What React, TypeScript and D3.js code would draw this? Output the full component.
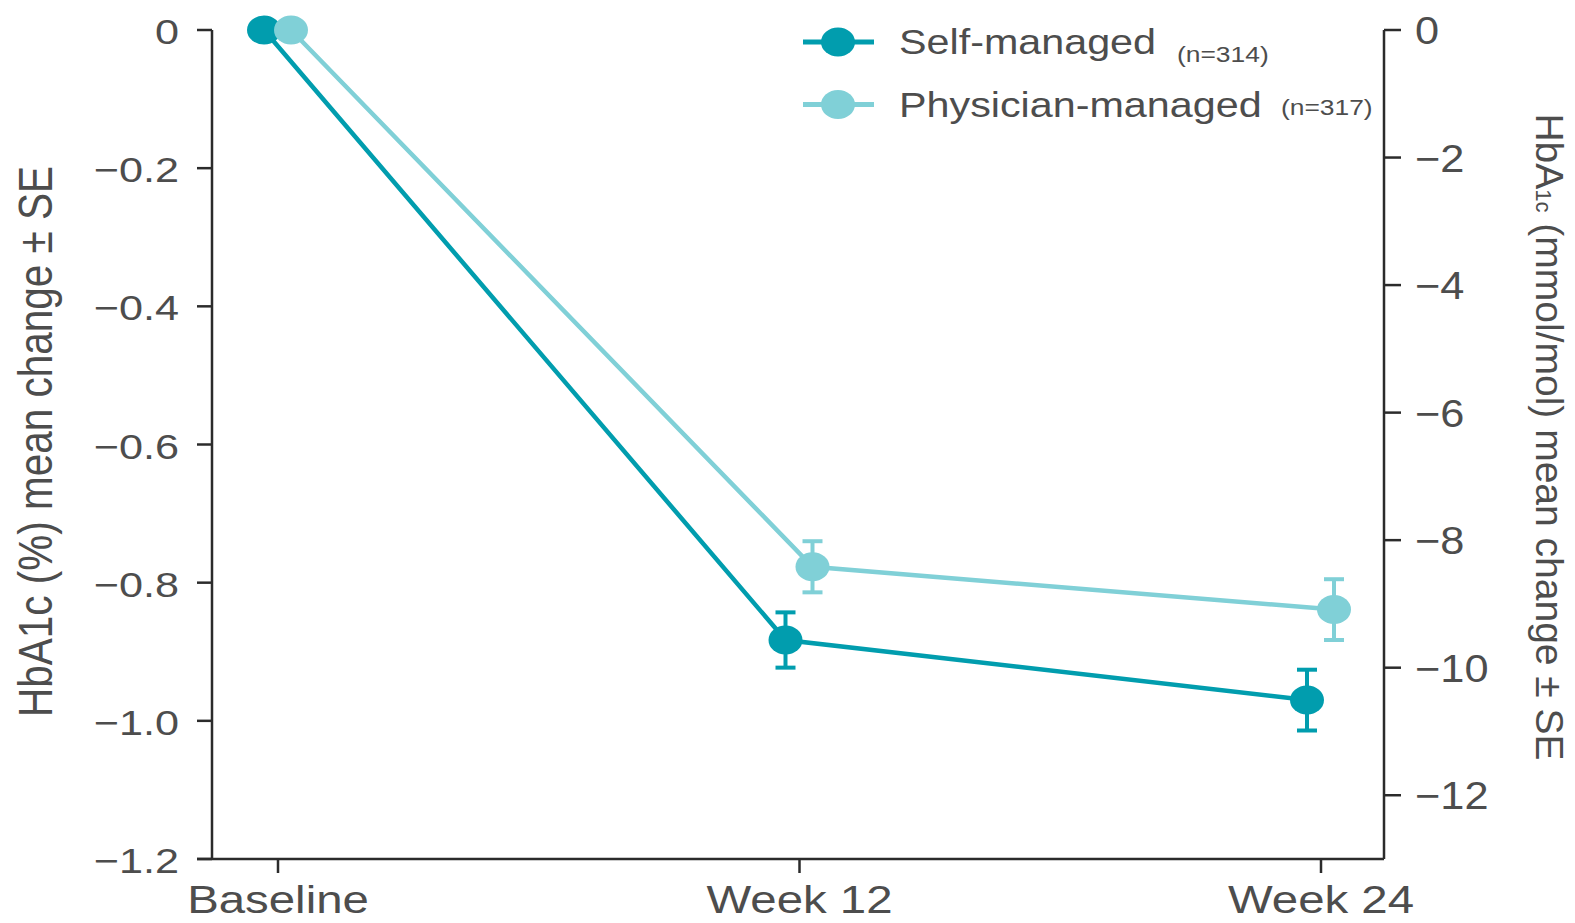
import React from "react";
import * as d3 from "d3";

const categories = ["Baseline", "Week 12", "Week 24"];
const selfMean = [0, -0.883, -0.97];
const selfSE = [0, 0.04, 0.044];
const physMean = [0, -0.777, -0.839];
const physSE = [0, 0.037, 0.044];
const leftTicks = [0, -0.2, -0.4, -0.6, -0.8, -1.0, -1.2];
const rightTicks = [0, -2, -4, -6, -8, -10, -12];

const W = 1575;
const H = 923;
const SELF = "#019dae";
const PHYS = "#80d0d7";
const TXT = "#4d4d4d";
const AX = "#2b2b2b";
const FONT = "'Liberation Sans', Arial, sans-serif";

const top = 30;
const bottom = 859;
const leftX = 212;
const rightX = 1384;

const x = d3.scalePoint<string>().domain(categories).range([278, 1321]);
const yL = d3.scaleLinear().domain([-1.2, 0]).range([bottom, top]);
const yR = d3.scaleLinear().domain([-13, 0]).range([bottom, top]);

const fmtL = (v: number) => (v === 0 ? "0" : "\u2212" + d3.format(".1f")(Math.abs(v)));
const fmtR = (v: number) => (v === 0 ? "0" : "\u2212" + Math.abs(v));

function Stretch({ x, y, sx, anchor, size, children, fill = TXT }: any) {
  return (
    <g transform={`translate(${x},${y}) scale(${sx},1)`}>
      <text textAnchor={anchor} fontSize={size} fill={fill} fontFamily={FONT}>
        {children}
      </text>
    </g>
  );
}

function Series({ mean, se, color, dx }: { mean: number[]; se: number[]; color: string; dx: number }) {
  const pts = categories.map((c, i) => [(x(c) as number) + dx, yL(mean[i])] as [number, number]);
  const line = d3.line();
  return (
    <g>
      <path d={line(pts) || ""} fill="none" stroke={color} strokeWidth={4.5} />
      {categories.map((c, i) => {
        if (se[i] === 0) return null;
        const cx = pts[i][0];
        const y1 = yL(mean[i] + se[i]);
        const y2 = yL(mean[i] - se[i]);
        return (
          <g key={c} stroke={color} strokeWidth={4}>
            <line x1={cx} x2={cx} y1={y1} y2={y2} />
            <line x1={cx - 10} x2={cx + 10} y1={y1} y2={y1} />
            <line x1={cx - 10} x2={cx + 10} y1={y2} y2={y2} />
          </g>
        );
      })}
      {pts.map((p, i) => (
        <ellipse key={i} cx={p[0]} cy={p[1]} rx={17} ry={14.5} fill={color} />
      ))}
    </g>
  );
}

export default function App() {
  return (
    <svg width={W} height={H} style={{ position: "absolute", left: 0, top: 0, background: "#fff" }}>
      {/* axes */}
      <g stroke={AX} strokeWidth={2.5} fill="none">
        <line x1={leftX} x2={leftX} y1={top} y2={bottom} />
        <line x1={rightX} x2={rightX} y1={top} y2={bottom} />
        <line x1={197} x2={rightX} y1={bottom} y2={bottom} />
        {leftTicks.map((t) => (
          <line key={t} x1={197} x2={leftX} y1={yL(t)} y2={yL(t)} />
        ))}
        {rightTicks.map((t) => (
          <line key={t} x1={rightX} x2={1401} y1={yR(t)} y2={yR(t)} />
        ))}
        {categories.map((c) => (
          <line key={c} x1={x(c)} x2={x(c)} y1={bottom} y2={873} />
        ))}
      </g>
      {leftTicks.map((t) => (
        <Stretch key={t} x={179} y={yL(t) + 14} sx={1.2} anchor="end" size={36}>
          {fmtL(t)}
        </Stretch>
      ))}
      {rightTicks.map((t) => (
        <Stretch key={t} x={1415} y={yR(t) + 14} sx={1.14} anchor="start" size={38}>
          {fmtR(t)}
        </Stretch>
      ))}
      {categories.map((c) => (
        <Stretch key={c} x={x(c)} y={913} sx={1.2} anchor="middle" size={39.5}>
          {c}
        </Stretch>
      ))}
      {/* axis titles */}
      <text
        transform={`translate(52,441.5) scale(1.2,1) rotate(-90)`}
        textAnchor="middle"
        fontSize={40.5}
        fill={TXT}
        fontFamily={FONT}
      >
        HbA1c (%) mean change ± SE
      </text>
      <text
        transform={`translate(1536,437) rotate(90)`}
        textAnchor="middle"
        fontSize={39}
        fill={TXT}
        fontFamily={FONT}
      >
        HbA<tspan fontSize={22}>1c</tspan> (mmol/mol) mean change ± SE
      </text>
      <Series mean={selfMean} se={selfSE} color={SELF} dx={-14} />
      <Series mean={physMean} se={physSE} color={PHYS} dx={13} />
      {/* legend */}
      {[
        { label: "Self-managed", n: "(n=314)", color: SELF, y: 42, nx: 1177, ny: 62 },
        { label: "Physician-managed", n: "(n=317)", color: PHYS, y: 104.5, nx: 1281, ny: 115 },
      ].map((d) => (
        <g key={d.label}>
          <line x1={803} x2={874} y1={d.y} y2={d.y} stroke={d.color} strokeWidth={5} />
          <ellipse cx={838} cy={d.y} rx={17} ry={14.5} fill={d.color} />
          <Stretch x={899} y={d.y + 12} sx={1.18} anchor="start" size={35}>
            {d.label}
          </Stretch>
          <Stretch x={d.nx} y={d.ny} sx={1.2} anchor="start" size={22}>
            {d.n}
          </Stretch>
        </g>
      ))}
    </svg>
  );
}
